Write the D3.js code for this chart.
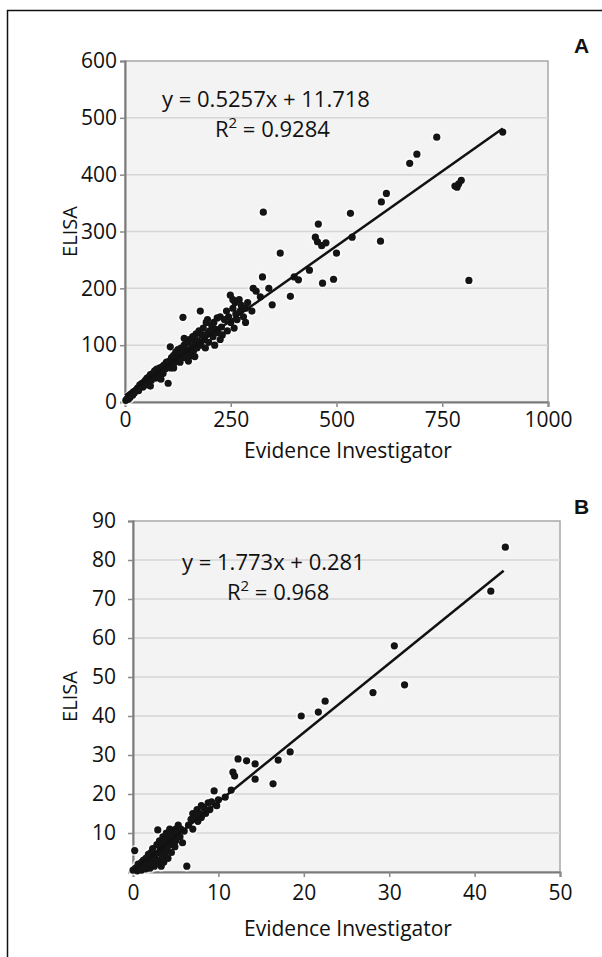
<!DOCTYPE html>
<meta charset="utf-8">
<script src="https://d3js.org/d3.v7.min.js"></script>
<style>
  body { margin: 0; background: #fff; }
  svg text { font-family: "Open Sans", "Noto Sans", sans-serif; fill: #111; }
</style>
<div id="chart"></div>
<script>

  // panel A: Evidence Investigator vs ELISA
  var pointsA = [
    [2, 3], [5, 6], [8, 5], [10, 10], [12, 8], [15, 14], [18, 12], [20, 18], [22, 16], [25, 20],
    [28, 22], [30, 25], [32, 20], [35, 30], [38, 28], [40, 33], [42, 26], [45, 35], [48, 38], [50, 30],
    [52, 42], [55, 40], [58, 45], [60, 48], [62, 38], [65, 50], [68, 46], [70, 55], [72, 42], [75, 58],
    [78, 52], [80, 48], [82, 60], [85, 55], [88, 62], [90, 50], [92, 65], [95, 58], [98, 70], [102, 33],
    [100, 62], [107, 97], [105, 72], [108, 60], [110, 78], [112, 68], [115, 82], [118, 70], [120, 88], [122, 75],
    [125, 92], [128, 80], [130, 70], [132, 95], [135, 85], [137, 149], [140, 100], [142, 78], [145, 92], [148, 105],
    [150, 88], [152, 110], [155, 82], [158, 98], [160, 115], [162, 90], [165, 105], [168, 120], [170, 95], [172, 108],
    [175, 125], [178, 160], [180, 100], [182, 118], [185, 130], [188, 110], [190, 95], [192, 140], [195, 120], [198, 105],
    [200, 125], [205, 135], [208, 115], [210, 140], [212, 100], [215, 128], [218, 148], [220, 122], [225, 150], [228, 132],
    [230, 118], [235, 145], [240, 160], [242, 125], [245, 150], [249, 188], [250, 140], [255, 165], [258, 130], [260, 175],
    [262, 155], [265, 145], [270, 180], [272, 160], [275, 170], [280, 150], [285, 165], [290, 175], [300, 160], [303, 200],
    [310, 195], [320, 185], [325, 220], [327, 334], [340, 200], [348, 171], [367, 262], [391, 186], [400, 220], [410, 215],
    [436, 232], [450, 290], [455, 282], [457, 313], [465, 275], [467, 209], [475, 280], [493, 216], [500, 262], [533, 332],
    [537, 290], [604, 283], [606, 352], [618, 367], [673, 420], [690, 436], [737, 466], [780, 380], [785, 378], [789, 384],
    [795, 390], [813, 214], [893, 475],
    [60, 28], [85, 40], [115, 60], [140, 112], [165, 80], [195, 145], [225, 110], [255, 180], [285, 140], [150, 72]
  ];
  var fitA = { slope: 0.5257, intercept: 11.718, xmax: 893 };
  var eqA = ["y = 0.5257x + 11.718", "0.9284"];
  var xTicksA = [0, 250, 500, 750, 1000];
  var yTicksA = [0, 100, 200, 300, 400, 500, 600];

  // panel B
  var pointsB = [
    [0, 0.5], [0.2, 5.5], [0.3, 1], [0.5, 0.3], [0.6, 2], [0.8, 1.2], [1, 0.5], [1, 2.5], [1.2, 3], [1.3, 1.5],
    [1.5, 0.8], [1.5, 3.5], [1.7, 2.2], [1.8, 4.5], [2, 1], [2, 3], [2.1, 5], [2.2, 2], [2.3, 6], [2.5, 3.5],
    [2.5, 1.5], [2.6, 4.5], [2.8, 7], [2.8, 2.5], [2.9, 10.8], [3, 5], [3, 3], [3.1, 8], [3.2, 6], [3.3, 1.5],
    [3.4, 4], [3.5, 9], [3.5, 6.5], [3.6, 2.5], [3.7, 7.5], [3.8, 5], [3.9, 10], [4, 8], [4, 6], [4.1, 3.5],
    [4.2, 9.5], [4.3, 11], [4.4, 7], [4.5, 8.5], [4.5, 5], [4.6, 10.5], [4.8, 9], [4.9, 6.5], [5, 11], [5, 8],
    [5.2, 10], [5.3, 12], [5.5, 9], [5.6, 11], [5.8, 7.5], [6, 10.5], [6.3, 1.5], [6.5, 12], [6.8, 13.5], [7, 15],
    [7, 11], [7.2, 14], [7.5, 16], [7.6, 13], [7.8, 15], [8, 17], [8, 14], [8.3, 16.5], [8.5, 15], [8.8, 17.7],
    [9, 16], [9.2, 18], [9.5, 20.8], [9.8, 17], [10, 18.5], [10.8, 19.2], [11.5, 21], [11.7, 25.6], [11.9, 24.6], [12.3, 29],
    [13.3, 28.5], [14.3, 27.7], [14.3, 23.8], [16.4, 22.6], [17, 28.7], [18.4, 30.8], [19.7, 40], [21.7, 41], [22.5, 43.8], [28.1, 46],
    [30.6, 58], [31.8, 48], [41.9, 72], [43.6, 83.3]
  ];
  var fitB = { slope: 1.773, intercept: 0.281, xmax: 43.4 };
  var eqB = ["y = 1.773x + 0.281", "0.968"];
  var xTicksB = [0, 10, 20, 30, 40, 50];
  var yTicksB = [0, 10, 20, 30, 40, 50, 60, 70, 80, 90];

  var svg = d3.select("#chart")
    .append("svg")
    .attr("width", 602)
    .attr("height", 957);

  // outer frame (only top and left edges fall inside the picture)
  svg.append("rect")
    .attr("x", 7.5)
    .attr("y", 10.5)
    .attr("width", 620)
    .attr("height", 980)
    .attr("fill", "none")
    .attr("stroke", "#111")
    .attr("stroke-width", 1.5);

  function panel(opt) {
    var x = d3.scaleLinear().domain(opt.xDomain).range([opt.left, opt.right]);
    var y = d3.scaleLinear().domain(opt.yDomain).range([opt.bottom, opt.top]);

    var g = svg.append("g");

    // plot background
    g.append("rect")
      .attr("x", opt.left)
      .attr("y", opt.top)
      .attr("width", opt.right - opt.left)
      .attr("height", opt.bottom - opt.top)
      .attr("fill", "#f3f3f3")
      .attr("stroke", "#a8a8a8")
      .attr("stroke-width", 1.5);

    // gridlines
    g.append("g")
      .selectAll("line")
      .data(opt.yTicks.filter(function (d) { return d > opt.yDomain[0] && d < opt.yDomain[1]; }))
      .enter()
      .append("line")
      .attr("x1", opt.left)
      .attr("x2", opt.right)
      .attr("y1", function (d) { return y(d); })
      .attr("y2", function (d) { return y(d); })
      .attr("stroke", "#d6d6d6")
      .attr("stroke-width", 1.5);

    // axes
    var yAxis = g.append("g")
      .attr("transform", "translate(" + opt.left + ",0)")
      .call(d3.axisLeft(y).tickValues(opt.yTicks).tickSize(5).tickPadding(opt.yPad)
        .tickFormat(function (d) { return opt.hideY0 && d === 0 ? "" : String(d); }));

    var xAxis = g.append("g")
      .attr("transform", "translate(0," + opt.bottom + ")")
      .call(d3.axisBottom(x).tickValues(opt.xTicks).tickSize(5).tickPadding(opt.xPad)
        .tickFormat(function (d) { return String(d); }));

    [xAxis, yAxis].forEach(function (a) {
      a.select(".domain").attr("stroke", "#7a7a7a").attr("stroke-width", 2);
      a.selectAll(".tick line").attr("stroke", "#8a8a8a").attr("stroke-width", 1.5);
      a.selectAll("text").style("font-size", "21px").style("font-family", "'Open Sans', sans-serif").attr("fill", "#111");
    });

    // points, with the white halo Excel puts round its markers
    g.append("g")
      .selectAll("circle")
      .data(opt.points)
      .enter()
      .append("circle")
      .attr("cx", function (d) { return x(d[0]); })
      .attr("cy", function (d) { return y(d[1]); })
      .attr("r", 5.5)
      .attr("fill", "#fff")
      .attr("opacity", 0.6);

    g.append("g")
      .selectAll("circle")
      .data(opt.points)
      .enter()
      .append("circle")
      .attr("cx", function (d) { return x(d[0]); })
      .attr("cy", function (d) { return y(d[1]); })
      .attr("r", 3.6)
      .attr("fill", "#141414");

    // trend line
    g.append("line")
      .attr("x1", x(0))
      .attr("y1", y(opt.fit.intercept))
      .attr("x2", x(opt.fit.xmax))
      .attr("y2", y(opt.fit.slope * opt.fit.xmax + opt.fit.intercept))
      .attr("stroke", "#111")
      .attr("stroke-width", 2.5);

    // equation
    g.append("text")
      .attr("x", opt.eqX)
      .attr("y", opt.eqY)
      .style("font-size", "22px")
      .text(opt.eq[0]);

    var r2 = g.append("text")
      .attr("x", opt.r2X)
      .attr("y", opt.eqY + 30)
      .style("font-size", "22px");
    r2.append("tspan").text("R");
    r2.append("tspan").attr("dy", -9).style("font-size", "15px").text("2");
    r2.append("tspan").attr("dy", 9).text(" = " + opt.eq[1]);

    // axis titles
    g.append("text")
      .attr("transform", "translate(" + 77 + "," + ((opt.top + opt.bottom) / 2) + ") rotate(-90)")
      .attr("text-anchor", "middle")
      .style("font-size", "20px")
      .text("ELISA");

    g.append("text")
      .attr("x", 348)
      .attr("y", opt.bottom + opt.titleDy)
      .attr("text-anchor", "middle")
      .style("font-size", "21px")
      .text("Evidence Investigator");

    // panel letter
    g.append("text")
      .attr("x", 574)
      .attr("y", opt.letterY)
      .style("font-size", "21px")
      .style("font-weight", "900")
      .style("font-family", "'Liberation Sans', Arial, sans-serif")
      .text(opt.letter);
  }

  panel({
    points: pointsA, fit: fitA, eq: eqA,
    xDomain: [0, 1000], yDomain: [0, 600],
    xTicks: xTicksA, yTicks: yTicksA,
    left: 125, right: 548, top: 61, bottom: 402,
    eqX: 162, eqY: 107, r2X: 215,
    yPad: 3, xPad: 5, hideY0: false, titleDy: 56,
    letter: "A", letterY: 53
  });

  panel({
    points: pointsB, fit: fitB, eq: eqB,
    xDomain: [0, 50], yDomain: [0, 90],
    xTicks: xTicksB, yTicks: yTicksB,
    left: 133, right: 560, top: 521, bottom: 872,
    eqX: 182, eqY: 570, r2X: 227,
    yPad: 12, xPad: 8, hideY0: true, titleDy: 64,
    letter: "B", letterY: 514
  });

</script>
